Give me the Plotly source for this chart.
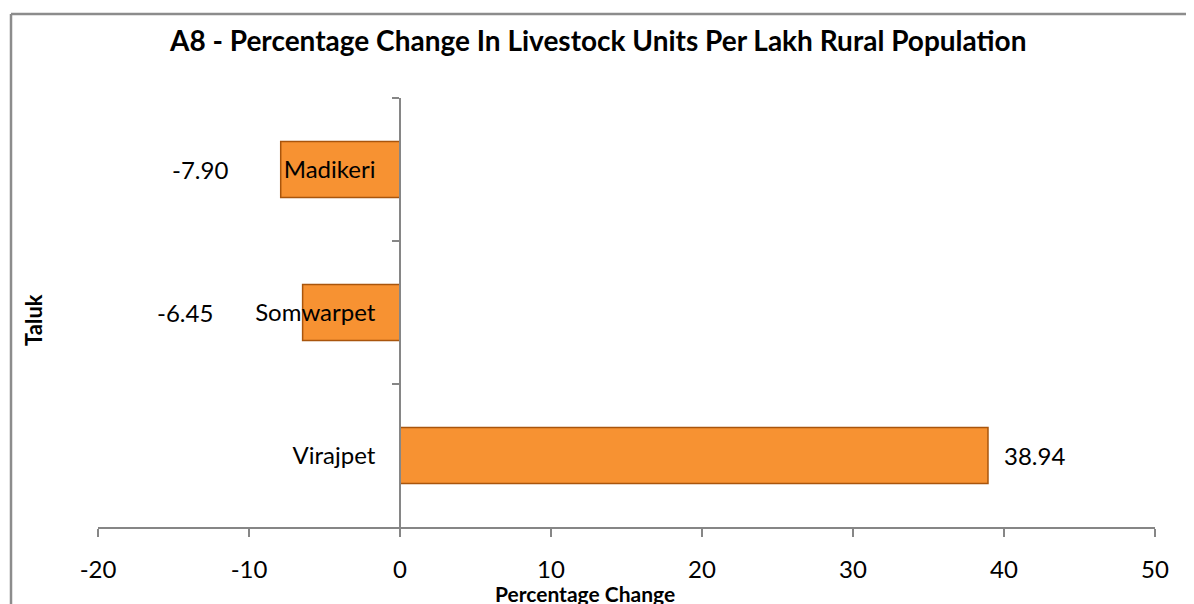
import plotly.graph_objects as go

# Data (top to bottom as shown)
taluks = ["Madikeri", "Somwarpet", "Virajpet"]
pct_change = [-7.90, -6.45, 38.94]
value_labels = ["-7.90", "-6.45", "38.94"]
label_shift_px = [-81, -118, 47]   # style: offsets of value labels from bar ends
x_ticks = [-20, -10, 0, 10, 20, 30, 40, 50]
x_tick_labels = ["-20", "-10", "0", "10", "20", "30", "40", "50"]

title_text = "A8 - Percentage Change In Livestock Units Per Lakh Rural Population"
x_title = "Percentage Change"
y_title = "Taluk"

FONT = "Lato, Calibri, Carlito, sans-serif"
OFF = 8  # page body margin
W, H = 1194, 604
# target plot area in screenshot pixels
PL, PR, PT, PB = 98, 1155, 98, 527
L, T = PL - OFF, PT - OFF
pw, ph = PR - PL, PB - PT
R = W - L - pw
B = H - T - ph

def px_x(px):
    return (px - PL) / pw

def px_y(py):
    return (PB - py) / ph

fig = go.Figure()
fig.add_trace(go.Bar(
    y=taluks, x=pct_change, orientation="h", width=0.39,
    marker=dict(color="#F79232", line=dict(color="#A9550C", width=1.5)),
    hoverinfo="x+y", showlegend=False,
))

for t, v, lab, sh in zip(taluks, pct_change, value_labels, label_shift_px):
    fig.add_annotation(x=v, y=t, text=lab, showarrow=False, xshift=sh,
                       xanchor="center", yanchor="middle",
                       font=dict(family=FONT, size=24, color="black"))

axis_gray = "#868686"
fig.update_layout(
    width=W, height=H,
    margin=dict(l=L, r=R, t=T, b=B),
    paper_bgcolor="white", plot_bgcolor="white",
    font=dict(family=FONT, size=24, color="black"),
    xaxis=dict(range=[-20, 50], tickvals=x_ticks, ticktext=x_tick_labels,
               showgrid=False, zeroline=False,
               showline=True, linecolor=axis_gray, linewidth=1.5,
               ticks="outside", ticklen=8, tickcolor=axis_gray, tickwidth=1.5,
               ticklabelstandoff=12, tickfont=dict(family=FONT, size=24)),
    yaxis=dict(type="category", categoryarray=taluks, autorange="reversed",
               anchor="free", position=px_x(400), showgrid=False, zeroline=False,
               showline=True, linecolor=axis_gray, linewidth=1.5,
               ticks="outside", ticklen=7, tickcolor=axis_gray, tickwidth=1.5,
               tickson="boundaries", ticklabelstandoff=19,
               tickfont=dict(family=FONT, size=24)),
)

fig.add_annotation(x=px_x(597), y=px_y(40), xref="paper", yref="paper",
                   xanchor="center", yanchor="middle",
                   text="<b>" + title_text + "</b>", showarrow=False,
                   font=dict(family=FONT, size=28, color="black"))
fig.add_annotation(x=px_x(585), y=px_y(593), xref="paper", yref="paper",
                   xanchor="center", yanchor="middle",
                   text="<b>" + x_title + "</b>", showarrow=False,
                   font=dict(family=FONT, size=21, color="black"))
fig.add_annotation(x=px_x(33), y=px_y(320), xref="paper", yref="paper",
                   xanchor="center", yanchor="middle",
                   text="<b>" + y_title + "</b>", showarrow=False, textangle=-90,
                   font=dict(family=FONT, size=22, color="black"))

# chart frame (left and top edges visible)
fig.add_shape(type="line", xref="paper", yref="paper",
              x0=px_x(11), y0=px_y(14), x1=px_x(11), y1=px_y(640),
              line=dict(color="#8C8C8C", width=2.5))
fig.add_shape(type="line", xref="paper", yref="paper",
              x0=px_x(11), y0=px_y(14), x1=px_x(1220), y1=px_y(14),
              line=dict(color="#8C8C8C", width=2.5))

fig.write_html("out.html")
